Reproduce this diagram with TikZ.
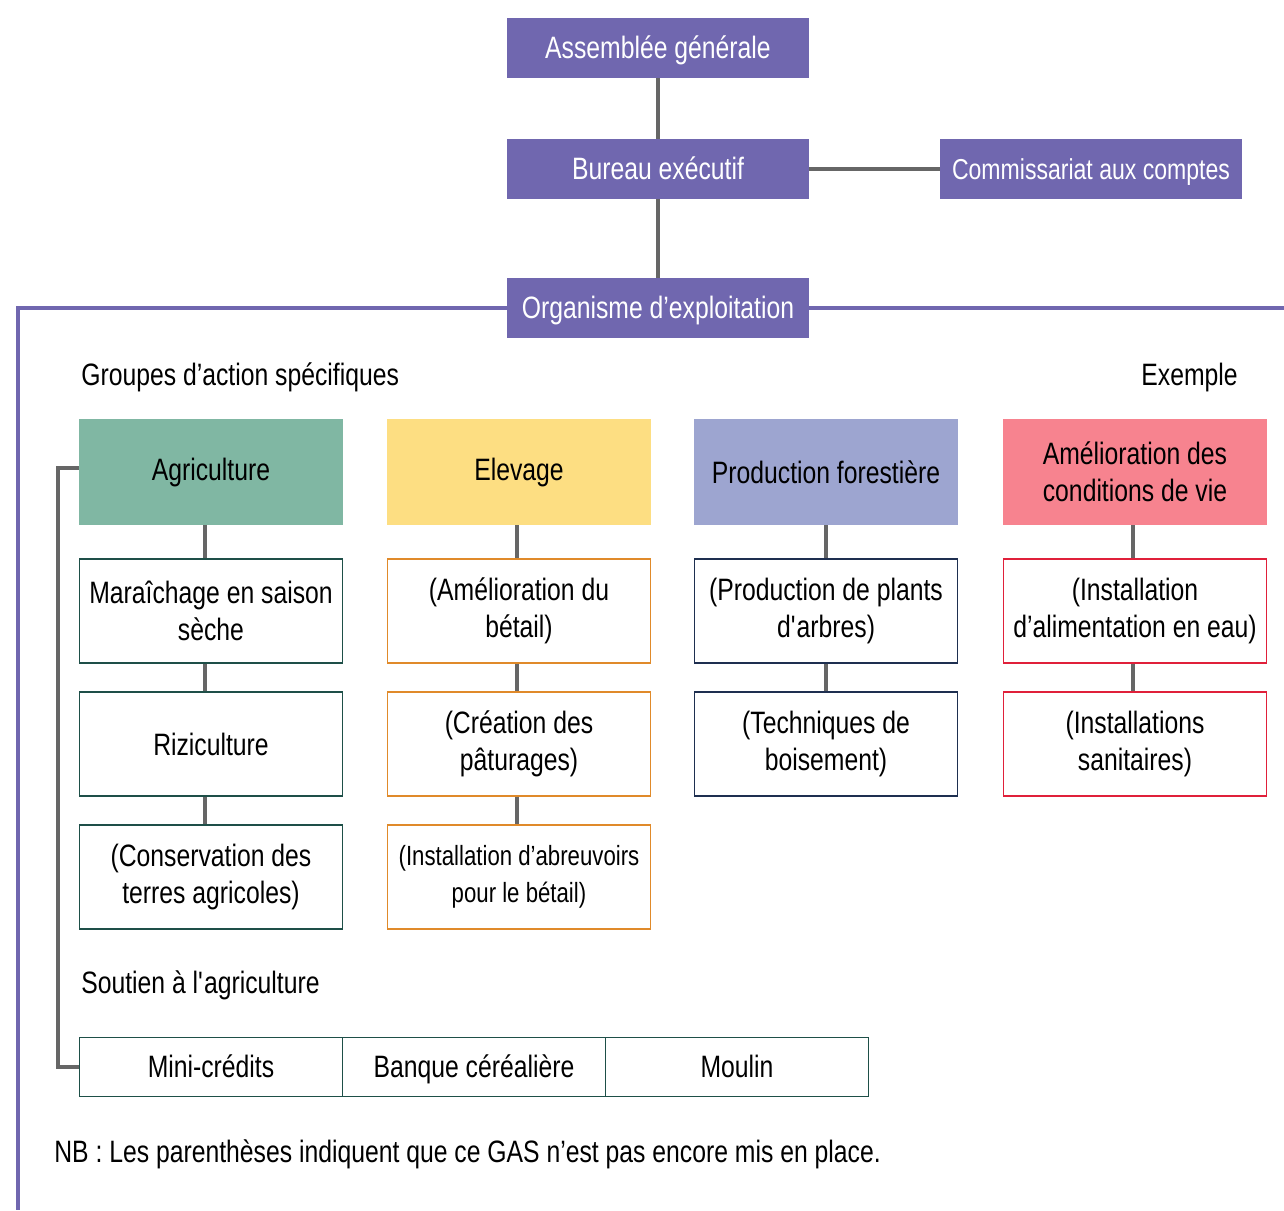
\documentclass[tikz,border=0pt]{standalone}
\usepackage{fontspec}
\setmainfont[FakeStretch=0.8]{Liberation Sans}
\usepackage{xcolor}
\definecolor{violetorg}{HTML}{7067AF}
\definecolor{linkgray}{HTML}{666666}
\definecolor{agrifill}{HTML}{80B7A3}
\definecolor{agriline}{HTML}{1E4F48}
\definecolor{elevfill}{HTML}{FDDE82}
\definecolor{elevline}{HTML}{E08A2A}
\definecolor{forfill}{HTML}{9DA5D0}
\definecolor{forline}{HTML}{1E2F50}
\definecolor{viefill}{HTML}{F7838F}
\definecolor{vieline}{HTML}{E0203A}

\begin{document}
\begin{tikzpicture}[x=0.02cm,y=-0.02cm,
    every node/.style={align=center,inner sep=0pt,font=\fontsize{17.6}{21}\selectfont},
    topbox/.style={fill=violetorg,text=white,minimum width=6.04cm,minimum height=1.2cm,text height=12pt,text depth=0pt},
    headbox/.style={minimum width=5.28cm,minimum height=2.12cm},
    gasbox/.style={draw,fill=white,line width=0.8pt,minimum width=5.26cm,minimum height=2.08cm},
    soutien/.style={draw=agriline,line width=0.8pt,minimum width=5.26cm,minimum height=1.18cm,text height=12pt,text depth=0pt},
    link/.style={draw=linkgray,line width=2.3pt},
    frame/.style={draw=violetorg,line width=2pt}]
  \useasboundingbox (0,0) rectangle (1284,1210);

  % organes de direction
  \node[topbox] (ag) at (658,48) {Assemblée générale};
  \node[topbox] (be) at (658,169) {Bureau exécutif};
  \node[topbox,font=\fontsize{16.4}{21}\selectfont] (cc) at (1091,169) {Commissariat aux comptes};
  \node[topbox] (oe) at (658,308) {Organisme d’exploitation};
  \draw[link] (ag) -- (be);
  \draw[link] (be) -- (cc);
  \draw[link] (be) -- (oe);
  \draw[frame] (oe.west) -- (18,308) -- (18,1210);
  \draw[frame] (oe.east) -- (1284,308);

  \node[anchor=west] (groupes) at (81,377) {Groupes d’action spécifiques};
  \node[anchor=east] (exemple) at (1238,377) {Exemple};

  % groupes d'action specifiques
  \node[headbox,fill=agrifill] (agri) at (211,472) {Agriculture};
  \node[headbox,fill=elevfill] (elev) at (519,472) {Elevage};
  \node[headbox,fill=forfill] (fore) at (826,472) {Production forestière};
  \node[headbox,fill=viefill] (vie) at (1135,472) {Amélioration des\\conditions de vie};

  \node[gasbox,draw=agriline] (agri1) at (211,611) {Maraîchage en saison\\sèche};
  \node[gasbox,draw=agriline] (agri2) at (211,744) {Riziculture};
  \node[gasbox,draw=agriline] (agri3) at (211,877) {(Conservation des\\terres agricoles)};
  \draw[link] ([xshift=-0.12cm]agri.south) -- ([xshift=-0.12cm]agri1.north);
  \draw[link] ([xshift=-0.12cm]agri1.south) -- ([xshift=-0.12cm]agri2.north);
  \draw[link] ([xshift=-0.12cm]agri2.south) -- ([xshift=-0.12cm]agri3.north);

  \node[gasbox,draw=elevline] (elev1) at (519,611) {(Amélioration du\\bétail)};
  \node[gasbox,draw=elevline] (elev2) at (519,744) {(Création des\\pâturages)};
  \node[gasbox,draw=elevline,font=\fontsize{15.8}{21}\selectfont] (elev3) at (519,877) {(Installation d’abreuvoirs\\pour le bétail)};
  \draw[link] ([xshift=-0.04cm]elev.south) -- ([xshift=-0.04cm]elev1.north);
  \draw[link] ([xshift=-0.04cm]elev1.south) -- ([xshift=-0.04cm]elev2.north);
  \draw[link] ([xshift=-0.04cm]elev2.south) -- ([xshift=-0.04cm]elev3.north);

  \node[gasbox,draw=forline] (fore1) at (826,611) {(Production de plants\\d\textquotesingle arbres)};
  \node[gasbox,draw=forline] (fore2) at (826,744) {(Techniques de\\boisement)};
  \draw[link] (fore) -- (fore1);
  \draw[link] (fore1) -- (fore2);

  \node[gasbox,draw=vieline] (vie1) at (1135,611) {(Installation\\d’alimentation en eau)};
  \node[gasbox,draw=vieline] (vie2) at (1135,744) {(Installations\\sanitaires)};
  \draw[link] ([xshift=-0.04cm]vie.south) -- ([xshift=-0.04cm]vie1.north);
  \draw[link] ([xshift=-0.04cm]vie1.south) -- ([xshift=-0.04cm]vie2.north);

  % soutien a l'agriculture
  \node[anchor=west] (soutitre) at (81,985) {Soutien à l\textquotesingle agriculture};
  \node[soutien] (mini) at (211,1067) {Mini-crédits};
  \node[soutien] (banque) at (474,1067) {Banque céréalière};
  \node[soutien] (moulin) at (737,1067) {Moulin};
  \draw[link] ([yshift=0.08cm]agri.west) -- ++(-21,0) |- (mini.west);

  \node[anchor=west] (nb) at (54,1154) {NB : Les parenthèses indiquent que ce GAS n’est pas encore mis en place.};
\end{tikzpicture}
\end{document}
